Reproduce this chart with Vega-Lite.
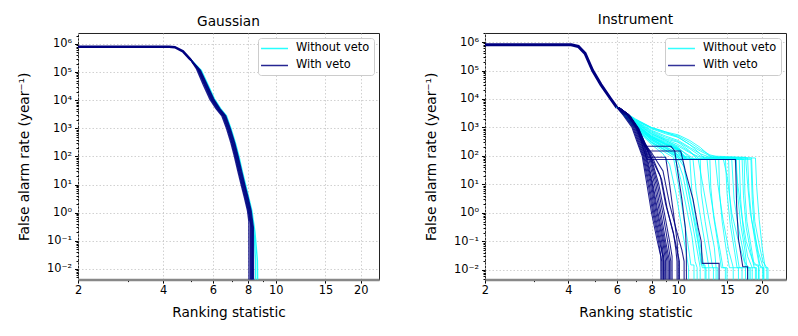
{
"$schema":"https://vega.github.io/schema/vega-lite/v6.json",
"padding":{"left":16,"top":12,"right":5,"bottom":5},
"config":{
 "font":"DejaVu Sans",
 "view":{"stroke":"#222","strokeWidth":1},
 "title":{"font":"DejaVu Sans","fontSize":13.7,"fontWeight":"normal","color":"black","offset":1,"anchor":"middle"},
 "axis":{"labelFont":"DejaVu Sans","labelFontSize":11.4,"titleFont":"DejaVu Sans","titleFontSize":13.7,"titleFontWeight":"normal","labelColor":"black","titleColor":"black","tickColor":"black","gridColor":"#c4c4c4","gridDash":[1.5,2],"gridWidth":0.8,"labelPadding":3,"labelOverlap":false,"labelFlush":false},
 "axisY":{"domain":false,"titlePadding":15},
 "axisX":{"domain":true,"domainColor":"#888888","domainWidth":2.5,"titlePadding":10,"labelPadding":1},
 "legend":{"orient":"top-right","offset":5,"strokeColor":"#cccccc","fillColor":"white","padding":4,"cornerRadius":3,"symbolType":"M-2.45,0H2.45","symbolSize":121,"symbolOffset":6,"symbolStrokeWidth":1.5,"labelFont":"DejaVu Sans","labelFontSize":11.4,"labelOffset":15,"rowPadding":5,"labelColor":"black"}
},
"datasets":{
"gh":[{"x":2,"y":800000},{"x":4.2,"y":800000},{"x":4.4,"y":770000},{"x":4.7,"y":550000},{"x":5.0,"y":280000}],
"ih":[{"x":2,"y":800000},{"x":4.1,"y":800000},{"x":4.35,"y":700000},{"x":4.6,"y":400000},{"x":4.9,"y":100000},{"x":5.25,"y":32000},{"x":5.7,"y":10000},{"x":6.0,"y":5000}],
"g":[
{"v":"A","k":1,"x":5.0,"y":280000},{"v":"A","k":1,"x":5.32,"y":125000},{"v":"A","k":1,"x":5.63,"y":35000},{"v":"A","k":1,"x":5.93,"y":11000},{"v":"A","k":1,"x":6.23,"y":5000},{"v":"A","k":1,"x":6.53,"y":2800},{"v":"A","k":1,"x":6.78,"y":1000},{"v":"A","k":1,"x":7.04,"y":300},{"v":"A","k":1,"x":7.24,"y":100},{"v":"A","k":1,"x":7.44,"y":30},{"v":"A","k":1,"x":7.64,"y":10},{"v":"A","k":1,"x":7.84,"y":3.5},{"v":"A","k":1,"x":8.04,"y":1.2},{"v":"A","k":1,"x":8.28,"y":0.2},{"v":"A","k":1,"x":8.3,"y":0.001},
{"v":"A","k":2,"x":5.0,"y":280000},{"v":"A","k":2,"x":5.4,"y":120000},{"v":"A","k":2,"x":5.71,"y":35000},{"v":"A","k":2,"x":6.02,"y":11000},{"v":"A","k":2,"x":6.32,"y":5000},{"v":"A","k":2,"x":6.63,"y":2800},{"v":"A","k":2,"x":6.89,"y":1000},{"v":"A","k":2,"x":7.14,"y":300},{"v":"A","k":2,"x":7.34,"y":100},{"v":"A","k":2,"x":7.55,"y":30},{"v":"A","k":2,"x":7.75,"y":10},{"v":"A","k":2,"x":7.96,"y":3.5},{"v":"A","k":2,"x":8.16,"y":1.2},{"v":"A","k":2,"x":8.4,"y":0.15},{"v":"A","k":2,"x":8.49,"y":0.02},{"v":"A","k":2,"x":8.5,"y":0.001},
{"v":"A","k":3,"x":5.0,"y":280000},{"v":"A","k":3,"x":5.46,"y":115000},{"v":"A","k":3,"x":5.77,"y":35000},{"v":"A","k":3,"x":6.08,"y":11000},{"v":"A","k":3,"x":6.39,"y":5000},{"v":"A","k":3,"x":6.7,"y":2800},{"v":"A","k":3,"x":6.95,"y":1000},{"v":"A","k":3,"x":7.21,"y":300},{"v":"A","k":3,"x":7.42,"y":100},{"v":"A","k":3,"x":7.62,"y":30},{"v":"A","k":3,"x":7.83,"y":10},{"v":"A","k":3,"x":8.03,"y":3.5},{"v":"A","k":3,"x":8.24,"y":1.2},{"v":"A","k":3,"x":8.45,"y":0.2},{"v":"A","k":3,"x":8.62,"y":0.02},{"v":"A","k":3,"x":8.65,"y":0.001},
{"v":"B","k":1,"x":5.0,"y":280000},{"v":"B","k":1,"x":5.25,"y":130000},{"v":"B","k":1,"x":5.55,"y":35000},{"v":"B","k":1,"x":5.85,"y":11000},{"v":"B","k":1,"x":6.15,"y":5000},{"v":"B","k":1,"x":6.45,"y":2800},{"v":"B","k":1,"x":6.7,"y":1000},{"v":"B","k":1,"x":6.95,"y":300},{"v":"B","k":1,"x":7.15,"y":100},{"v":"B","k":1,"x":7.35,"y":30},{"v":"B","k":1,"x":7.55,"y":10},{"v":"B","k":1,"x":7.75,"y":3.5},{"v":"B","k":1,"x":7.95,"y":1.2},{"v":"B","k":1,"x":8.04,"y":0.5},{"v":"B","k":1,"x":8.05,"y":0.001},
{"v":"B","k":2,"x":5.0,"y":280000},{"v":"B","k":2,"x":5.3,"y":125000},{"v":"B","k":2,"x":5.6,"y":35000},{"v":"B","k":2,"x":5.9,"y":11000},{"v":"B","k":2,"x":6.2,"y":5000},{"v":"B","k":2,"x":6.5,"y":2800},{"v":"B","k":2,"x":6.75,"y":1000},{"v":"B","k":2,"x":7.0,"y":300},{"v":"B","k":2,"x":7.2,"y":100},{"v":"B","k":2,"x":7.4,"y":30},{"v":"B","k":2,"x":7.6,"y":10},{"v":"B","k":2,"x":7.8,"y":3.5},{"v":"B","k":2,"x":8.0,"y":1.2},{"v":"B","k":2,"x":8.14,"y":0.4},{"v":"B","k":2,"x":8.15,"y":0.001},
{"v":"B","k":3,"x":5.0,"y":280000},{"v":"B","k":3,"x":5.35,"y":120000},{"v":"B","k":3,"x":5.66,"y":35000},{"v":"B","k":3,"x":5.97,"y":11000},{"v":"B","k":3,"x":6.28,"y":5000},{"v":"B","k":3,"x":6.58,"y":2800},{"v":"B","k":3,"x":6.83,"y":1000},{"v":"B","k":3,"x":7.08,"y":300},{"v":"B","k":3,"x":7.29,"y":100},{"v":"B","k":3,"x":7.49,"y":30},{"v":"B","k":3,"x":7.7,"y":10},{"v":"B","k":3,"x":7.9,"y":3.5},{"v":"B","k":3,"x":8.1,"y":1.2},{"v":"B","k":3,"x":8.24,"y":0.3},{"v":"B","k":3,"x":8.25,"y":0.001},
{"v":"B","k":4,"x":5.0,"y":280000},{"v":"B","k":4,"x":5.42,"y":115000},{"v":"B","k":4,"x":5.73,"y":35000},{"v":"B","k":4,"x":6.04,"y":11000},{"v":"B","k":4,"x":6.35,"y":5000},{"v":"B","k":4,"x":6.66,"y":2800},{"v":"B","k":4,"x":6.91,"y":1000},{"v":"B","k":4,"x":7.17,"y":300},{"v":"B","k":4,"x":7.37,"y":100},{"v":"B","k":4,"x":7.58,"y":30},{"v":"B","k":4,"x":7.78,"y":10},{"v":"B","k":4,"x":7.99,"y":3.5},{"v":"B","k":4,"x":8.19,"y":1.2},{"v":"B","k":4,"x":8.34,"y":0.3},{"v":"B","k":4,"x":8.35,"y":0.001},
{"v":"B","k":5,"x":5.0,"y":280000},{"v":"B","k":5,"x":5.33,"y":125000},{"v":"B","k":5,"x":5.63,"y":35000},{"v":"B","k":5,"x":5.94,"y":11000},{"v":"B","k":5,"x":6.24,"y":5000},{"v":"B","k":5,"x":6.54,"y":2800},{"v":"B","k":5,"x":6.79,"y":1000},{"v":"B","k":5,"x":7.04,"y":300},{"v":"B","k":5,"x":7.24,"y":100},{"v":"B","k":5,"x":7.44,"y":30},{"v":"B","k":5,"x":7.65,"y":10},{"v":"B","k":5,"x":7.85,"y":3.5},{"v":"B","k":5,"x":8.05,"y":1.2},{"v":"B","k":5,"x":8.19,"y":0.35},{"v":"B","k":5,"x":8.2,"y":0.001},
{"v":"B","k":6,"x":5.0,"y":280000},{"v":"B","k":6,"x":5.39,"y":118000},{"v":"B","k":6,"x":5.7,"y":35000},{"v":"B","k":6,"x":6.01,"y":11000},{"v":"B","k":6,"x":6.31,"y":5000},{"v":"B","k":6,"x":6.62,"y":2800},{"v":"B","k":6,"x":6.87,"y":1000},{"v":"B","k":6,"x":7.13,"y":300},{"v":"B","k":6,"x":7.33,"y":100},{"v":"B","k":6,"x":7.53,"y":30},{"v":"B","k":6,"x":7.74,"y":10},{"v":"B","k":6,"x":7.94,"y":3.5},{"v":"B","k":6,"x":8.14,"y":1.2},{"v":"B","k":6,"x":8.29,"y":0.3},{"v":"B","k":6,"x":8.3,"y":0.001}
],
"i":[
{"v":"A","k":1,"x":6,"y":5000},{"v":"A","k":1,"x":7,"y":2000},{"v":"A","k":1,"x":8,"y":1000},{"v":"A","k":1,"x":9,"y":700},{"v":"A","k":1,"x":10,"y":550},{"v":"A","k":1,"x":11,"y":350},{"v":"A","k":1,"x":12,"y":200},{"v":"A","k":1,"x":13,"y":100},{"v":"A","k":1,"x":13.5,"y":85},{"v":"A","k":1,"x":18.4,"y":85},{"v":"A","k":1,"x":18.6,"y":5},{"v":"A","k":1,"x":18.9,"y":0.5},{"v":"A","k":1,"x":19.5,"y":0.1},{"v":"A","k":1,"x":20.2,"y":0.02},{"v":"A","k":1,"x":20.89,"y":0.012},{"v":"A","k":1,"x":20.9,"y":0.001},
{"v":"A","k":2,"x":6,"y":5000},{"v":"A","k":2,"x":7,"y":1800},{"v":"A","k":2,"x":8,"y":900},{"v":"A","k":2,"x":9,"y":600},{"v":"A","k":2,"x":10,"y":450},{"v":"A","k":2,"x":11,"y":250},{"v":"A","k":2,"x":12,"y":120},{"v":"A","k":2,"x":12.5,"y":76},{"v":"A","k":2,"x":18.3,"y":76},{"v":"A","k":2,"x":18.5,"y":3},{"v":"A","k":2,"x":18.8,"y":0.3},{"v":"A","k":2,"x":19.3,"y":0.05},{"v":"A","k":2,"x":19.8,"y":0.012},{"v":"A","k":2,"x":20.39,"y":0.012},{"v":"A","k":2,"x":20.4,"y":0.001},
{"v":"A","k":3,"x":6,"y":5000},{"v":"A","k":3,"x":7,"y":1600},{"v":"A","k":3,"x":8,"y":700},{"v":"A","k":3,"x":9,"y":400},{"v":"A","k":3,"x":10,"y":300},{"v":"A","k":3,"x":11,"y":150},{"v":"A","k":3,"x":11.7,"y":76},{"v":"A","k":3,"x":17.3,"y":76},{"v":"A","k":3,"x":17.4,"y":5},{"v":"A","k":3,"x":17.7,"y":0.5},{"v":"A","k":3,"x":18.2,"y":0.1},{"v":"A","k":3,"x":18.8,"y":0.015},{"v":"A","k":3,"x":19.49,"y":0.015},{"v":"A","k":3,"x":19.5,"y":0.001},
{"v":"A","k":4,"x":6,"y":5000},{"v":"A","k":4,"x":7,"y":1500},{"v":"A","k":4,"x":8,"y":600},{"v":"A","k":4,"x":9,"y":350},{"v":"A","k":4,"x":10,"y":200},{"v":"A","k":4,"x":10.8,"y":100},{"v":"A","k":4,"x":11.2,"y":76},{"v":"A","k":4,"x":16.6,"y":76},{"v":"A","k":4,"x":16.8,"y":3},{"v":"A","k":4,"x":17.2,"y":0.2},{"v":"A","k":4,"x":17.8,"y":0.03},{"v":"A","k":4,"x":18.49,"y":0.012},{"v":"A","k":4,"x":18.5,"y":0.001},
{"v":"A","k":5,"x":6,"y":5000},{"v":"A","k":5,"x":7,"y":1400},{"v":"A","k":5,"x":8,"y":500},{"v":"A","k":5,"x":9,"y":300},{"v":"A","k":5,"x":10,"y":180},{"v":"A","k":5,"x":10.6,"y":76},{"v":"A","k":5,"x":15.2,"y":76},{"v":"A","k":5,"x":15.3,"y":5},{"v":"A","k":5,"x":15.6,"y":0.5},{"v":"A","k":5,"x":16.2,"y":0.05},{"v":"A","k":5,"x":16.6,"y":0.012},{"v":"A","k":5,"x":17.49,"y":0.012},{"v":"A","k":5,"x":17.5,"y":0.001},
{"v":"A","k":6,"x":6,"y":5000},{"v":"A","k":6,"x":7,"y":1300},{"v":"A","k":6,"x":8,"y":450},{"v":"A","k":6,"x":9,"y":250},{"v":"A","k":6,"x":10,"y":150},{"v":"A","k":6,"x":10.4,"y":76},{"v":"A","k":6,"x":14,"y":76},{"v":"A","k":6,"x":14.1,"y":5},{"v":"A","k":6,"x":14.4,"y":0.5},{"v":"A","k":6,"x":14.9,"y":0.05},{"v":"A","k":6,"x":15.3,"y":0.012},{"v":"A","k":6,"x":15.79,"y":0.012},{"v":"A","k":6,"x":15.8,"y":0.001},
{"v":"A","k":7,"x":6,"y":5000},{"v":"A","k":7,"x":7,"y":1200},{"v":"A","k":7,"x":8,"y":400},{"v":"A","k":7,"x":9,"y":220},{"v":"A","k":7,"x":9.9,"y":120},{"v":"A","k":7,"x":10.2,"y":76},{"v":"A","k":7,"x":13,"y":76},{"v":"A","k":7,"x":13.1,"y":8},{"v":"A","k":7,"x":13.4,"y":0.8},{"v":"A","k":7,"x":13.9,"y":0.08},{"v":"A","k":7,"x":14.3,"y":0.012},{"v":"A","k":7,"x":14.99,"y":0.012},{"v":"A","k":7,"x":15,"y":0.001},
{"v":"A","k":8,"x":6,"y":5000},{"v":"A","k":8,"x":7,"y":1200},{"v":"A","k":8,"x":8,"y":400},{"v":"A","k":8,"x":9,"y":200},{"v":"A","k":8,"x":9.8,"y":100},{"v":"A","k":8,"x":10.1,"y":76},{"v":"A","k":8,"x":12,"y":76},{"v":"A","k":8,"x":12.1,"y":5},{"v":"A","k":8,"x":12.5,"y":0.5},{"v":"A","k":8,"x":13,"y":0.05},{"v":"A","k":8,"x":13.3,"y":0.012},{"v":"A","k":8,"x":13.89,"y":0.012},{"v":"A","k":8,"x":13.9,"y":0.001},
{"v":"A","k":9,"x":6,"y":5000},{"v":"A","k":9,"x":7,"y":1100},{"v":"A","k":9,"x":8,"y":350},{"v":"A","k":9,"x":9,"y":180},{"v":"A","k":9,"x":10,"y":110},{"v":"A","k":9,"x":11,"y":90},{"v":"A","k":9,"x":11.2,"y":5},{"v":"A","k":9,"x":11.6,"y":0.5},{"v":"A","k":9,"x":12.1,"y":0.05},{"v":"A","k":9,"x":12.4,"y":0.012},{"v":"A","k":9,"x":12.89,"y":0.012},{"v":"A","k":9,"x":12.9,"y":0.001},
{"v":"A","k":10,"x":6,"y":5000},{"v":"A","k":10,"x":7,"y":1000},{"v":"A","k":10,"x":8,"y":300},{"v":"A","k":10,"x":9,"y":150},{"v":"A","k":10,"x":9.8,"y":100},{"v":"A","k":10,"x":10.4,"y":20},{"v":"A","k":10,"x":10.9,"y":2},{"v":"A","k":10,"x":11.4,"y":0.2},{"v":"A","k":10,"x":11.8,"y":0.03},{"v":"A","k":10,"x":11.99,"y":0.012},{"v":"A","k":10,"x":12,"y":0.001},
{"v":"A","k":11,"x":6,"y":5000},{"v":"A","k":11,"x":7,"y":1000},{"v":"A","k":11,"x":8,"y":280},{"v":"A","k":11,"x":9,"y":130},{"v":"A","k":11,"x":9.6,"y":90},{"v":"A","k":11,"x":10,"y":10},{"v":"A","k":11,"x":10.4,"y":1},{"v":"A","k":11,"x":10.8,"y":0.1},{"v":"A","k":11,"x":11.1,"y":0.015},{"v":"A","k":11,"x":11.39,"y":0.015},{"v":"A","k":11,"x":11.4,"y":0.001},
{"v":"A","k":12,"x":6,"y":5000},{"v":"A","k":12,"x":7,"y":900},{"v":"A","k":12,"x":8,"y":250},{"v":"A","k":12,"x":8.8,"y":120},{"v":"A","k":12,"x":9.3,"y":50},{"v":"A","k":12,"x":9.8,"y":5},{"v":"A","k":12,"x":10.2,"y":0.5},{"v":"A","k":12,"x":10.6,"y":0.06},{"v":"A","k":12,"x":10.89,"y":0.012},{"v":"A","k":12,"x":10.9,"y":0.001},
{"v":"A","k":13,"x":6,"y":5000},{"v":"A","k":13,"x":7,"y":1500},{"v":"A","k":13,"x":8,"y":600},{"v":"A","k":13,"x":9,"y":350},{"v":"A","k":13,"x":10,"y":220},{"v":"A","k":13,"x":11,"y":130},{"v":"A","k":13,"x":12,"y":90},{"v":"A","k":13,"x":14.5,"y":90},{"v":"A","k":13,"x":15,"y":20},{"v":"A","k":13,"x":15.6,"y":1},{"v":"A","k":13,"x":16.5,"y":0.1},{"v":"A","k":13,"x":17.3,"y":0.02},{"v":"A","k":13,"x":17.99,"y":0.012},{"v":"A","k":13,"x":18,"y":0.001},
{"v":"A","k":14,"x":6,"y":5000},{"v":"A","k":14,"x":7,"y":1700},{"v":"A","k":14,"x":8,"y":800},{"v":"A","k":14,"x":9,"y":500},{"v":"A","k":14,"x":10,"y":350},{"v":"A","k":14,"x":11,"y":200},{"v":"A","k":14,"x":12,"y":120},{"v":"A","k":14,"x":13,"y":90},{"v":"A","k":14,"x":16,"y":90},{"v":"A","k":14,"x":16.4,"y":10},{"v":"A","k":14,"x":16.9,"y":1},{"v":"A","k":14,"x":17.6,"y":0.1},{"v":"A","k":14,"x":18.6,"y":0.02},{"v":"A","k":14,"x":19.59,"y":0.012},{"v":"A","k":14,"x":19.6,"y":0.001},
{"v":"A","k":15,"x":6,"y":5000},{"v":"A","k":15,"x":7,"y":1900},{"v":"A","k":15,"x":8,"y":1000},{"v":"A","k":15,"x":9,"y":700},{"v":"A","k":15,"x":10,"y":450},{"v":"A","k":15,"x":11,"y":250},{"v":"A","k":15,"x":12,"y":150},{"v":"A","k":15,"x":13,"y":100},{"v":"A","k":15,"x":17.5,"y":90},{"v":"A","k":15,"x":17.8,"y":10},{"v":"A","k":15,"x":18.2,"y":1},{"v":"A","k":15,"x":18.8,"y":0.2},{"v":"A","k":15,"x":19.5,"y":0.04},{"v":"A","k":15,"x":20.29,"y":0.012},{"v":"A","k":15,"x":20.3,"y":0.001},
{"v":"A","k":16,"x":6,"y":5000},{"v":"A","k":16,"x":7,"y":1300},{"v":"A","k":16,"x":8,"y":500},{"v":"A","k":16,"x":9,"y":280},{"v":"A","k":16,"x":10,"y":180},{"v":"A","k":16,"x":11,"y":100},{"v":"A","k":16,"x":11.5,"y":76},{"v":"A","k":16,"x":13.6,"y":76},{"v":"A","k":16,"x":13.9,"y":10},{"v":"A","k":16,"x":14.5,"y":0.6},{"v":"A","k":16,"x":15.2,"y":0.05},{"v":"A","k":16,"x":15.8,"y":0.012},{"v":"A","k":16,"x":16.49,"y":0.012},{"v":"A","k":16,"x":16.5,"y":0.001},
{"v":"A","k":17,"x":6,"y":5000},{"v":"A","k":17,"x":7,"y":1100},{"v":"A","k":17,"x":8,"y":380},{"v":"A","k":17,"x":9,"y":200},{"v":"A","k":17,"x":10,"y":130},{"v":"A","k":17,"x":10.3,"y":76},{"v":"A","k":17,"x":11.8,"y":76},{"v":"A","k":17,"x":12.3,"y":8},{"v":"A","k":17,"x":12.9,"y":0.6},{"v":"A","k":17,"x":13.5,"y":0.06},{"v":"A","k":17,"x":13.69,"y":0.012},{"v":"A","k":17,"x":13.7,"y":0.001},
{"v":"A","k":18,"x":6,"y":5000},{"v":"A","k":18,"x":7,"y":1250},{"v":"A","k":18,"x":8,"y":420},{"v":"A","k":18,"x":9,"y":240},{"v":"A","k":18,"x":10,"y":160},{"v":"A","k":18,"x":10.5,"y":76},{"v":"A","k":18,"x":15.6,"y":76},{"v":"A","k":18,"x":15.9,"y":3},{"v":"A","k":18,"x":16.5,"y":0.3},{"v":"A","k":18,"x":17.2,"y":0.04},{"v":"A","k":18,"x":17.5,"y":0.012},{"v":"A","k":18,"x":18.99,"y":0.012},{"v":"A","k":18,"x":19,"y":0.001},
{"v":"A","k":19,"x":6,"y":5000},{"v":"A","k":19,"x":7,"y":1450},{"v":"A","k":19,"x":8,"y":550},{"v":"A","k":19,"x":9,"y":320},{"v":"A","k":19,"x":10,"y":190},{"v":"A","k":19,"x":10.7,"y":76},{"v":"A","k":19,"x":16.2,"y":76},{"v":"A","k":19,"x":16.4,"y":4},{"v":"A","k":19,"x":16.8,"y":0.4},{"v":"A","k":19,"x":17.4,"y":0.05},{"v":"A","k":19,"x":17.7,"y":0.012},{"v":"A","k":19,"x":18.19,"y":0.012},{"v":"A","k":19,"x":18.2,"y":0.001},
{"v":"A","k":20,"x":6,"y":5000},{"v":"A","k":20,"x":7,"y":1350},{"v":"A","k":20,"x":8,"y":480},{"v":"A","k":20,"x":9,"y":270},{"v":"A","k":20,"x":10,"y":170},{"v":"A","k":20,"x":10.5,"y":90},{"v":"A","k":20,"x":11.5,"y":76},{"v":"A","k":20,"x":14.8,"y":76},{"v":"A","k":20,"x":15,"y":5},{"v":"A","k":20,"x":15.4,"y":0.4},{"v":"A","k":20,"x":16,"y":0.04},{"v":"A","k":20,"x":16.3,"y":0.012},{"v":"A","k":20,"x":16.99,"y":0.012},{"v":"A","k":20,"x":17,"y":0.001},
{"v":"A","k":21,"x":6,"y":5000},{"v":"A","k":21,"x":7,"y":1150},{"v":"A","k":21,"x":8,"y":360},{"v":"A","k":21,"x":9,"y":190},{"v":"A","k":21,"x":9.9,"y":110},{"v":"A","k":21,"x":10.4,"y":60},{"v":"A","k":21,"x":10.8,"y":8},{"v":"A","k":21,"x":11.3,"y":0.8},{"v":"A","k":21,"x":11.8,"y":0.08},{"v":"A","k":21,"x":12.1,"y":0.015},{"v":"A","k":21,"x":12.49,"y":0.015},{"v":"A","k":21,"x":12.5,"y":0.001},
{"v":"A","k":22,"x":6,"y":5000},{"v":"A","k":22,"x":7,"y":1050},{"v":"A","k":22,"x":8,"y":320},{"v":"A","k":22,"x":9,"y":160},{"v":"A","k":22,"x":9.7,"y":95},{"v":"A","k":22,"x":10.2,"y":15},{"v":"A","k":22,"x":10.7,"y":1.5},{"v":"A","k":22,"x":11.2,"y":0.15},{"v":"A","k":22,"x":11.5,"y":0.02},{"v":"A","k":22,"x":11.69,"y":0.012},{"v":"A","k":22,"x":11.7,"y":0.001},
{"v":"A","k":23,"x":6,"y":5000},{"v":"A","k":23,"x":7,"y":1650},{"v":"A","k":23,"x":8,"y":750},{"v":"A","k":23,"x":9,"y":450},{"v":"A","k":23,"x":10,"y":320},{"v":"A","k":23,"x":11,"y":180},{"v":"A","k":23,"x":12,"y":100},{"v":"A","k":23,"x":12.8,"y":85},{"v":"A","k":23,"x":17.8,"y":85},{"v":"A","k":23,"x":18,"y":6},{"v":"A","k":23,"x":18.4,"y":0.6},{"v":"A","k":23,"x":19,"y":0.08},{"v":"A","k":23,"x":19.6,"y":0.015},{"v":"A","k":23,"x":20.19,"y":0.012},{"v":"A","k":23,"x":20.2,"y":0.001},
{"v":"A","k":24,"x":6,"y":5000},{"v":"A","k":24,"x":7,"y":1550},{"v":"A","k":24,"x":8,"y":650},{"v":"A","k":24,"x":9,"y":380},{"v":"A","k":24,"x":10,"y":250},{"v":"A","k":24,"x":11,"y":140},{"v":"A","k":24,"x":11.9,"y":80},{"v":"A","k":24,"x":17,"y":80},{"v":"A","k":24,"x":17.2,"y":4},{"v":"A","k":24,"x":17.6,"y":0.3},{"v":"A","k":24,"x":18.3,"y":0.04},{"v":"A","k":24,"x":18.8,"y":0.012},{"v":"A","k":24,"x":19.19,"y":0.012},{"v":"A","k":24,"x":19.2,"y":0.001},
{"v":"A","k":25,"x":6,"y":5000},{"v":"A","k":25,"x":7,"y":1250},{"v":"A","k":25,"x":8,"y":440},{"v":"A","k":25,"x":9,"y":260},{"v":"A","k":25,"x":10,"y":170},{"v":"A","k":25,"x":10.8,"y":76},{"v":"A","k":25,"x":12.7,"y":76},{"v":"A","k":25,"x":13,"y":6},{"v":"A","k":25,"x":13.6,"y":0.4},{"v":"A","k":25,"x":14.2,"y":0.04},{"v":"A","k":25,"x":14.5,"y":0.012},{"v":"A","k":25,"x":14.79,"y":0.012},{"v":"A","k":25,"x":14.8,"y":0.001},
{"v":"A","k":26,"x":6,"y":5000},{"v":"A","k":26,"x":7,"y":1800},{"v":"A","k":26,"x":8,"y":950},{"v":"A","k":26,"x":9,"y":650},{"v":"A","k":26,"x":10,"y":500},{"v":"A","k":26,"x":11,"y":300},{"v":"A","k":26,"x":12,"y":170},{"v":"A","k":26,"x":13,"y":110},{"v":"A","k":26,"x":14,"y":90},{"v":"A","k":26,"x":19,"y":85},{"v":"A","k":26,"x":19.2,"y":8},{"v":"A","k":26,"x":19.6,"y":0.6},{"v":"A","k":26,"x":20.1,"y":0.06},{"v":"A","k":26,"x":20.6,"y":0.012},{"v":"A","k":26,"x":21.09,"y":0.012},{"v":"A","k":26,"x":21.1,"y":0.001},
{"v":"A","k":27,"x":6,"y":5000},{"v":"A","k":27,"x":7,"y":1350},{"v":"A","k":27,"x":8,"y":460},{"v":"A","k":27,"x":9,"y":260},{"v":"A","k":27,"x":10,"y":165},{"v":"A","k":27,"x":10.6,"y":76},{"v":"A","k":27,"x":11.3,"y":76},{"v":"A","k":27,"x":11.6,"y":6},{"v":"A","k":27,"x":12.1,"y":0.5},{"v":"A","k":27,"x":12.6,"y":0.05},{"v":"A","k":27,"x":12.9,"y":0.012},{"v":"A","k":27,"x":13.39,"y":0.012},{"v":"A","k":27,"x":13.4,"y":0.001},
{"v":"A","k":28,"x":6,"y":5000},{"v":"A","k":28,"x":7,"y":1000},{"v":"A","k":28,"x":8,"y":300},{"v":"A","k":28,"x":9,"y":160},{"v":"A","k":28,"x":9.9,"y":100},{"v":"A","k":28,"x":10.5,"y":40},{"v":"A","k":28,"x":11,"y":4},{"v":"A","k":28,"x":11.6,"y":0.3},{"v":"A","k":28,"x":12,"y":0.04},{"v":"A","k":28,"x":12.2,"y":0.012},{"v":"A","k":28,"x":12.59,"y":0.012},{"v":"A","k":28,"x":12.6,"y":0.001},
{"v":"B","k":1,"x":6.0,"y":5000},{"v":"B","k":1,"x":6.3,"y":2800},{"v":"B","k":1,"x":6.8,"y":1000},{"v":"B","k":1,"x":7.1,"y":300},{"v":"B","k":1,"x":7.4,"y":100},{"v":"B","k":1,"x":7.7,"y":10},{"v":"B","k":1,"x":8.0,"y":1},{"v":"B","k":1,"x":8.4,"y":0.1},{"v":"B","k":1,"x":8.64,"y":0.03},{"v":"B","k":1,"x":8.65,"y":0.001},
{"v":"B","k":2,"x":6.0,"y":5000},{"v":"B","k":2,"x":6.4,"y":2800},{"v":"B","k":2,"x":6.9,"y":1000},{"v":"B","k":2,"x":7.2,"y":300},{"v":"B","k":2,"x":7.5,"y":100},{"v":"B","k":2,"x":7.85,"y":10},{"v":"B","k":2,"x":8.15,"y":1},{"v":"B","k":2,"x":8.55,"y":0.1},{"v":"B","k":2,"x":8.79,"y":0.03},{"v":"B","k":2,"x":8.8,"y":0.001},
{"v":"B","k":3,"x":6.0,"y":5000},{"v":"B","k":3,"x":6.5,"y":2800},{"v":"B","k":3,"x":7.0,"y":1000},{"v":"B","k":3,"x":7.3,"y":300},{"v":"B","k":3,"x":7.6,"y":100},{"v":"B","k":3,"x":8.0,"y":10},{"v":"B","k":3,"x":8.3,"y":1},{"v":"B","k":3,"x":8.7,"y":0.1},{"v":"B","k":3,"x":8.89,"y":0.02},{"v":"B","k":3,"x":8.9,"y":0.001},
{"v":"B","k":4,"x":6.05,"y":5000},{"v":"B","k":4,"x":6.55,"y":2800},{"v":"B","k":4,"x":7.05,"y":1000},{"v":"B","k":4,"x":7.4,"y":300},{"v":"B","k":4,"x":7.7,"y":100},{"v":"B","k":4,"x":8.1,"y":10},{"v":"B","k":4,"x":8.45,"y":1},{"v":"B","k":4,"x":8.85,"y":0.1},{"v":"B","k":4,"x":9.09,"y":0.02},{"v":"B","k":4,"x":9.1,"y":0.001},
{"v":"B","k":5,"x":6.1,"y":5000},{"v":"B","k":5,"x":6.6,"y":2800},{"v":"B","k":5,"x":7.1,"y":1000},{"v":"B","k":5,"x":7.5,"y":300},{"v":"B","k":5,"x":7.85,"y":100},{"v":"B","k":5,"x":8.3,"y":10},{"v":"B","k":5,"x":8.65,"y":1},{"v":"B","k":5,"x":9.0,"y":0.1},{"v":"B","k":5,"x":9.29,"y":0.02},{"v":"B","k":5,"x":9.3,"y":0.001},
{"v":"B","k":6,"x":6.1,"y":5000},{"v":"B","k":6,"x":6.65,"y":2500},{"v":"B","k":6,"x":7.15,"y":900},{"v":"B","k":6,"x":7.55,"y":300},{"v":"B","k":6,"x":7.9,"y":120},{"v":"B","k":6,"x":8.5,"y":10},{"v":"B","k":6,"x":8.9,"y":1},{"v":"B","k":6,"x":9.3,"y":0.1},{"v":"B","k":6,"x":9.49,"y":0.03},{"v":"B","k":6,"x":9.5,"y":0.001},
{"v":"B","k":7,"x":6.1,"y":5000},{"v":"B","k":7,"x":6.6,"y":2800},{"v":"B","k":7,"x":7.1,"y":1000},{"v":"B","k":7,"x":7.5,"y":300},{"v":"B","k":7,"x":7.8,"y":130},{"v":"B","k":7,"x":8.6,"y":20},{"v":"B","k":7,"x":9.0,"y":2},{"v":"B","k":7,"x":9.6,"y":0.2},{"v":"B","k":7,"x":9.8,"y":0.05},{"v":"B","k":7,"x":9.89,"y":0.02},{"v":"B","k":7,"x":9.9,"y":0.001},
{"v":"B","k":8,"x":6.1,"y":5000},{"v":"B","k":8,"x":6.7,"y":2500},{"v":"B","k":8,"x":7.2,"y":900},{"v":"B","k":8,"x":7.6,"y":250},{"v":"B","k":8,"x":8.0,"y":130},{"v":"B","k":8,"x":8.8,"y":30},{"v":"B","k":8,"x":9.3,"y":2},{"v":"B","k":8,"x":9.9,"y":0.2},{"v":"B","k":8,"x":10.3,"y":0.05},{"v":"B","k":8,"x":10.49,"y":0.02},{"v":"B","k":8,"x":10.5,"y":0.001},
{"v":"B","k":9,"x":6.1,"y":5000},{"v":"B","k":9,"x":6.6,"y":2800},{"v":"B","k":9,"x":7.1,"y":1000},{"v":"B","k":9,"x":7.4,"y":300},{"v":"B","k":9,"x":7.6,"y":220},{"v":"B","k":9,"x":9.4,"y":220},{"v":"B","k":9,"x":9.7,"y":150},{"v":"B","k":9,"x":10.0,"y":20},{"v":"B","k":9,"x":10.3,"y":3},{"v":"B","k":9,"x":10.6,"y":0.3},{"v":"B","k":9,"x":10.69,"y":0.05},{"v":"B","k":9,"x":10.7,"y":0.001},
{"v":"B","k":10,"x":6.1,"y":5000},{"v":"B","k":10,"x":6.6,"y":2800},{"v":"B","k":10,"x":7.1,"y":1000},{"v":"B","k":10,"x":7.5,"y":250},{"v":"B","k":10,"x":7.8,"y":150},{"v":"B","k":10,"x":10.2,"y":150},{"v":"B","k":10,"x":10.6,"y":30},{"v":"B","k":10,"x":11.3,"y":3},{"v":"B","k":10,"x":11.8,"y":0.3},{"v":"B","k":10,"x":12.1,"y":0.1},{"v":"B","k":10,"x":12.2,"y":0.017},{"v":"B","k":10,"x":14.04,"y":0.017},{"v":"B","k":10,"x":14.05,"y":0.001},
{"v":"B","k":11,"x":6.1,"y":5000},{"v":"B","k":11,"x":6.6,"y":2800},{"v":"B","k":11,"x":7.1,"y":1000},{"v":"B","k":11,"x":7.45,"y":200},{"v":"B","k":11,"x":7.7,"y":75},{"v":"B","k":11,"x":16.1,"y":75},{"v":"B","k":11,"x":16.25,"y":1.7},{"v":"B","k":11,"x":16.5,"y":0.12},{"v":"B","k":11,"x":17.1,"y":0.013},{"v":"B","k":11,"x":17.79,"y":0.013},{"v":"B","k":11,"x":17.8,"y":0.001},
{"v":"B","k":12,"x":6.1,"y":5000},{"v":"B","k":12,"x":6.6,"y":2800},{"v":"B","k":12,"x":7.1,"y":1000},{"v":"B","k":12,"x":7.5,"y":250},{"v":"B","k":12,"x":7.75,"y":90},{"v":"B","k":12,"x":9.0,"y":90},{"v":"B","k":12,"x":9.3,"y":10},{"v":"B","k":12,"x":9.6,"y":1},{"v":"B","k":12,"x":9.9,"y":0.1},{"v":"B","k":12,"x":9.99,"y":0.02},{"v":"B","k":12,"x":10.0,"y":0.001},
{"v":"B","k":13,"x":6.0,"y":5000},{"v":"B","k":13,"x":6.35,"y":2800},{"v":"B","k":13,"x":6.85,"y":1000},{"v":"B","k":13,"x":7.15,"y":300},{"v":"B","k":13,"x":7.45,"y":100},{"v":"B","k":13,"x":7.78,"y":10},{"v":"B","k":13,"x":8.08,"y":1},{"v":"B","k":13,"x":8.48,"y":0.1},{"v":"B","k":13,"x":8.71,"y":0.02},{"v":"B","k":13,"x":8.72,"y":0.001},
{"v":"B","k":14,"x":6.0,"y":5000},{"v":"B","k":14,"x":6.45,"y":2800},{"v":"B","k":14,"x":6.95,"y":1000},{"v":"B","k":14,"x":7.25,"y":300},{"v":"B","k":14,"x":7.55,"y":100},{"v":"B","k":14,"x":7.93,"y":10},{"v":"B","k":14,"x":8.22,"y":1},{"v":"B","k":14,"x":8.62,"y":0.1},{"v":"B","k":14,"x":8.84,"y":0.02},{"v":"B","k":14,"x":8.85,"y":0.001},
{"v":"B","k":15,"x":6.05,"y":5000},{"v":"B","k":15,"x":6.52,"y":2800},{"v":"B","k":15,"x":7.02,"y":1000},{"v":"B","k":15,"x":7.35,"y":300},{"v":"B","k":15,"x":7.65,"y":100},{"v":"B","k":15,"x":8.05,"y":10},{"v":"B","k":15,"x":8.38,"y":1},{"v":"B","k":15,"x":8.78,"y":0.1},{"v":"B","k":15,"x":8.99,"y":0.02},{"v":"B","k":15,"x":9.0,"y":0.001},
{"v":"B","k":16,"x":6.05,"y":5000},{"v":"B","k":16,"x":6.58,"y":2800},{"v":"B","k":16,"x":7.08,"y":1000},{"v":"B","k":16,"x":7.45,"y":300},{"v":"B","k":16,"x":7.78,"y":100},{"v":"B","k":16,"x":8.2,"y":10},{"v":"B","k":16,"x":8.55,"y":1},{"v":"B","k":16,"x":8.92,"y":0.1},{"v":"B","k":16,"x":9.19,"y":0.02},{"v":"B","k":16,"x":9.2,"y":0.001},
{"v":"B","k":17,"x":6.1,"y":5000},{"v":"B","k":17,"x":6.62,"y":2700},{"v":"B","k":17,"x":7.12,"y":950},{"v":"B","k":17,"x":7.52,"y":300},{"v":"B","k":17,"x":7.88,"y":110},{"v":"B","k":17,"x":8.4,"y":10},{"v":"B","k":17,"x":8.78,"y":1},{"v":"B","k":17,"x":9.15,"y":0.1},{"v":"B","k":17,"x":9.39,"y":0.02},{"v":"B","k":17,"x":9.4,"y":0.001},
{"v":"B","k":18,"x":6.1,"y":5000},{"v":"B","k":18,"x":6.68,"y":2500},{"v":"B","k":18,"x":7.18,"y":900},{"v":"B","k":18,"x":7.58,"y":280},{"v":"B","k":18,"x":7.95,"y":125},{"v":"B","k":18,"x":8.7,"y":15},{"v":"B","k":18,"x":9.1,"y":1.5},{"v":"B","k":18,"x":9.7,"y":0.12},{"v":"B","k":18,"x":10.09,"y":0.02},{"v":"B","k":18,"x":10.1,"y":0.001}
]
},
"spacing":43,
"resolve":{"scale":{"x":"independent","y":"independent","color":"independent"},"legend":{"color":"independent"}},
"hconcat":[
{"title":"Gaussian","width":301,"height":246.6,
 "encoding":{
  "x":{"field":"x","type":"quantitative","scale":{"type":"log","domain":[2,23.2],"nice":false},
   "axis":{"title":"Ranking statistic","values":[2,3,4,5,6,7,8,9,10,15,20],"format":"d","labelExpr":"indexof([2,4,6,8,10,15,20],datum.value)>=0?datum.label:''","tickSize":{"condition":{"test":"indexof([2,4,6,8,10,15,20],datum.value)>=0","value":3.5},"value":2},"gridOpacity":{"condition":{"test":"indexof([2,4,6,8,10,15,20],datum.value)>=0","value":1},"value":0}}},
  "y":{"field":"y","type":"quantitative","scale":{"type":"log","domain":[0.0042,2460000],"nice":false},
   "axis":{"title":"False alarm rate (year⁻¹)","values":[0.005,0.006,0.007,0.008,0.009,0.01,0.02,0.03,0.04,0.05,0.06,0.07,0.08,0.09,0.1,0.2,0.3,0.4,0.5,0.6,0.7,0.8,0.9,1,2,3,4,5,6,7,8,9,10,20,30,40,50,60,70,80,90,100,200,300,400,500,600,700,800,900,1000,2000,3000,4000,5000,6000,7000,8000,9000,10000,20000,30000,40000,50000,60000,70000,80000,90000,100000,200000,300000,400000,500000,600000,700000,800000,900000,1000000,2000000],
   "labelExpr":"datum.value===1000000?'10⁶':datum.value===100000?'10⁵':datum.value===10000?'10⁴':datum.value===1000?'10³':datum.value===100?'10²':datum.value===10?'10¹':datum.value===1?'10⁰':datum.value===0.1?'10⁻¹':datum.value===0.01?'10⁻²':''",
   "tickSize":{"condition":{"test":"indexof([0.01,0.1,1,10,100,1000,10000,100000,1000000],datum.value)>=0","value":3.5},"value":2},
   "gridOpacity":{"condition":{"test":"indexof([0.01,0.1,1,10,100,1000,10000,100000,1000000],datum.value)>=0","value":1},"value":0}}}
 },
 "layer":[
  {"data":{"name":"gh"},"mark":{"type":"line","color":"#000080","strokeWidth":2.5,"clip":true}},
  {"data":{"name":"g"},"transform":[{"filter":"datum.v=='A'"}],"mark":{"type":"line","strokeWidth":1.4,"opacity":0.85,"clip":true},
   "encoding":{"color":{"field":"v","type":"nominal","scale":{"domain":["A","B"],"range":["#00ffff","#000080"]},"legend":{"title":null,"labelExpr":"datum.value=='A'?'Without veto':'With veto'"}},"detail":{"field":"k","type":"nominal"}}},
  {"data":{"name":"g"},"transform":[{"filter":"datum.v=='B'"}],"mark":{"type":"line","strokeWidth":1.4,"opacity":0.85,"clip":true},
   "encoding":{"color":{"field":"v","type":"nominal","scale":{"domain":["A","B"],"range":["#00ffff","#000080"]},"legend":{"title":null,"labelExpr":"datum.value=='A'?'Without veto':'With veto'"}},"detail":{"field":"k","type":"nominal"}}}
 ]
},
{"title":"Instrument","width":301,"height":246.6,
 "encoding":{
  "x":{"field":"x","type":"quantitative","scale":{"type":"log","domain":[2,24.5],"nice":false},
   "axis":{"title":"Ranking statistic","values":[2,3,4,5,6,7,8,9,10,15,20],"format":"d","labelExpr":"indexof([2,4,6,8,10,15,20],datum.value)>=0?datum.label:''","tickSize":{"condition":{"test":"indexof([2,4,6,8,10,15,20],datum.value)>=0","value":3.5},"value":2},"gridOpacity":{"condition":{"test":"indexof([2,4,6,8,10,15,20],datum.value)>=0","value":1},"value":0}}},
  "y":{"field":"y","type":"quantitative","scale":{"type":"log","domain":[0.0046,2070000],"nice":false},
   "axis":{"title":"False alarm rate (year⁻¹)","values":[0.005,0.006,0.007,0.008,0.009,0.01,0.02,0.03,0.04,0.05,0.06,0.07,0.08,0.09,0.1,0.2,0.3,0.4,0.5,0.6,0.7,0.8,0.9,1,2,3,4,5,6,7,8,9,10,20,30,40,50,60,70,80,90,100,200,300,400,500,600,700,800,900,1000,2000,3000,4000,5000,6000,7000,8000,9000,10000,20000,30000,40000,50000,60000,70000,80000,90000,100000,200000,300000,400000,500000,600000,700000,800000,900000,1000000,2000000],
   "labelExpr":"datum.value===1000000?'10⁶':datum.value===100000?'10⁵':datum.value===10000?'10⁴':datum.value===1000?'10³':datum.value===100?'10²':datum.value===10?'10¹':datum.value===1?'10⁰':datum.value===0.1?'10⁻¹':datum.value===0.01?'10⁻²':''",
   "tickSize":{"condition":{"test":"indexof([0.01,0.1,1,10,100,1000,10000,100000,1000000],datum.value)>=0","value":3.5},"value":2},
   "gridOpacity":{"condition":{"test":"indexof([0.01,0.1,1,10,100,1000,10000,100000,1000000],datum.value)>=0","value":1},"value":0}}}
 },
 "layer":[
  {"data":{"name":"ih"},"mark":{"type":"line","color":"#000080","strokeWidth":3,"clip":true}},
  {"data":{"name":"i"},"transform":[{"filter":"datum.v=='A'"}],"mark":{"type":"line","strokeWidth":1,"opacity":0.8,"clip":true},
   "encoding":{"color":{"field":"v","type":"nominal","scale":{"domain":["A","B"],"range":["#00ffff","#000080"]},"legend":{"title":null,"labelExpr":"datum.value=='A'?'Without veto':'With veto'"}},"detail":{"field":"k","type":"nominal"}}},
  {"data":{"name":"i"},"transform":[{"filter":"datum.v=='B'"}],"mark":{"type":"line","strokeWidth":1.1,"opacity":0.85,"clip":true},
   "encoding":{"color":{"field":"v","type":"nominal","scale":{"domain":["A","B"],"range":["#00ffff","#000080"]},"legend":{"title":null,"labelExpr":"datum.value=='A'?'Without veto':'With veto'"}},"detail":{"field":"k","type":"nominal"}}}
 ]
}
]
}
